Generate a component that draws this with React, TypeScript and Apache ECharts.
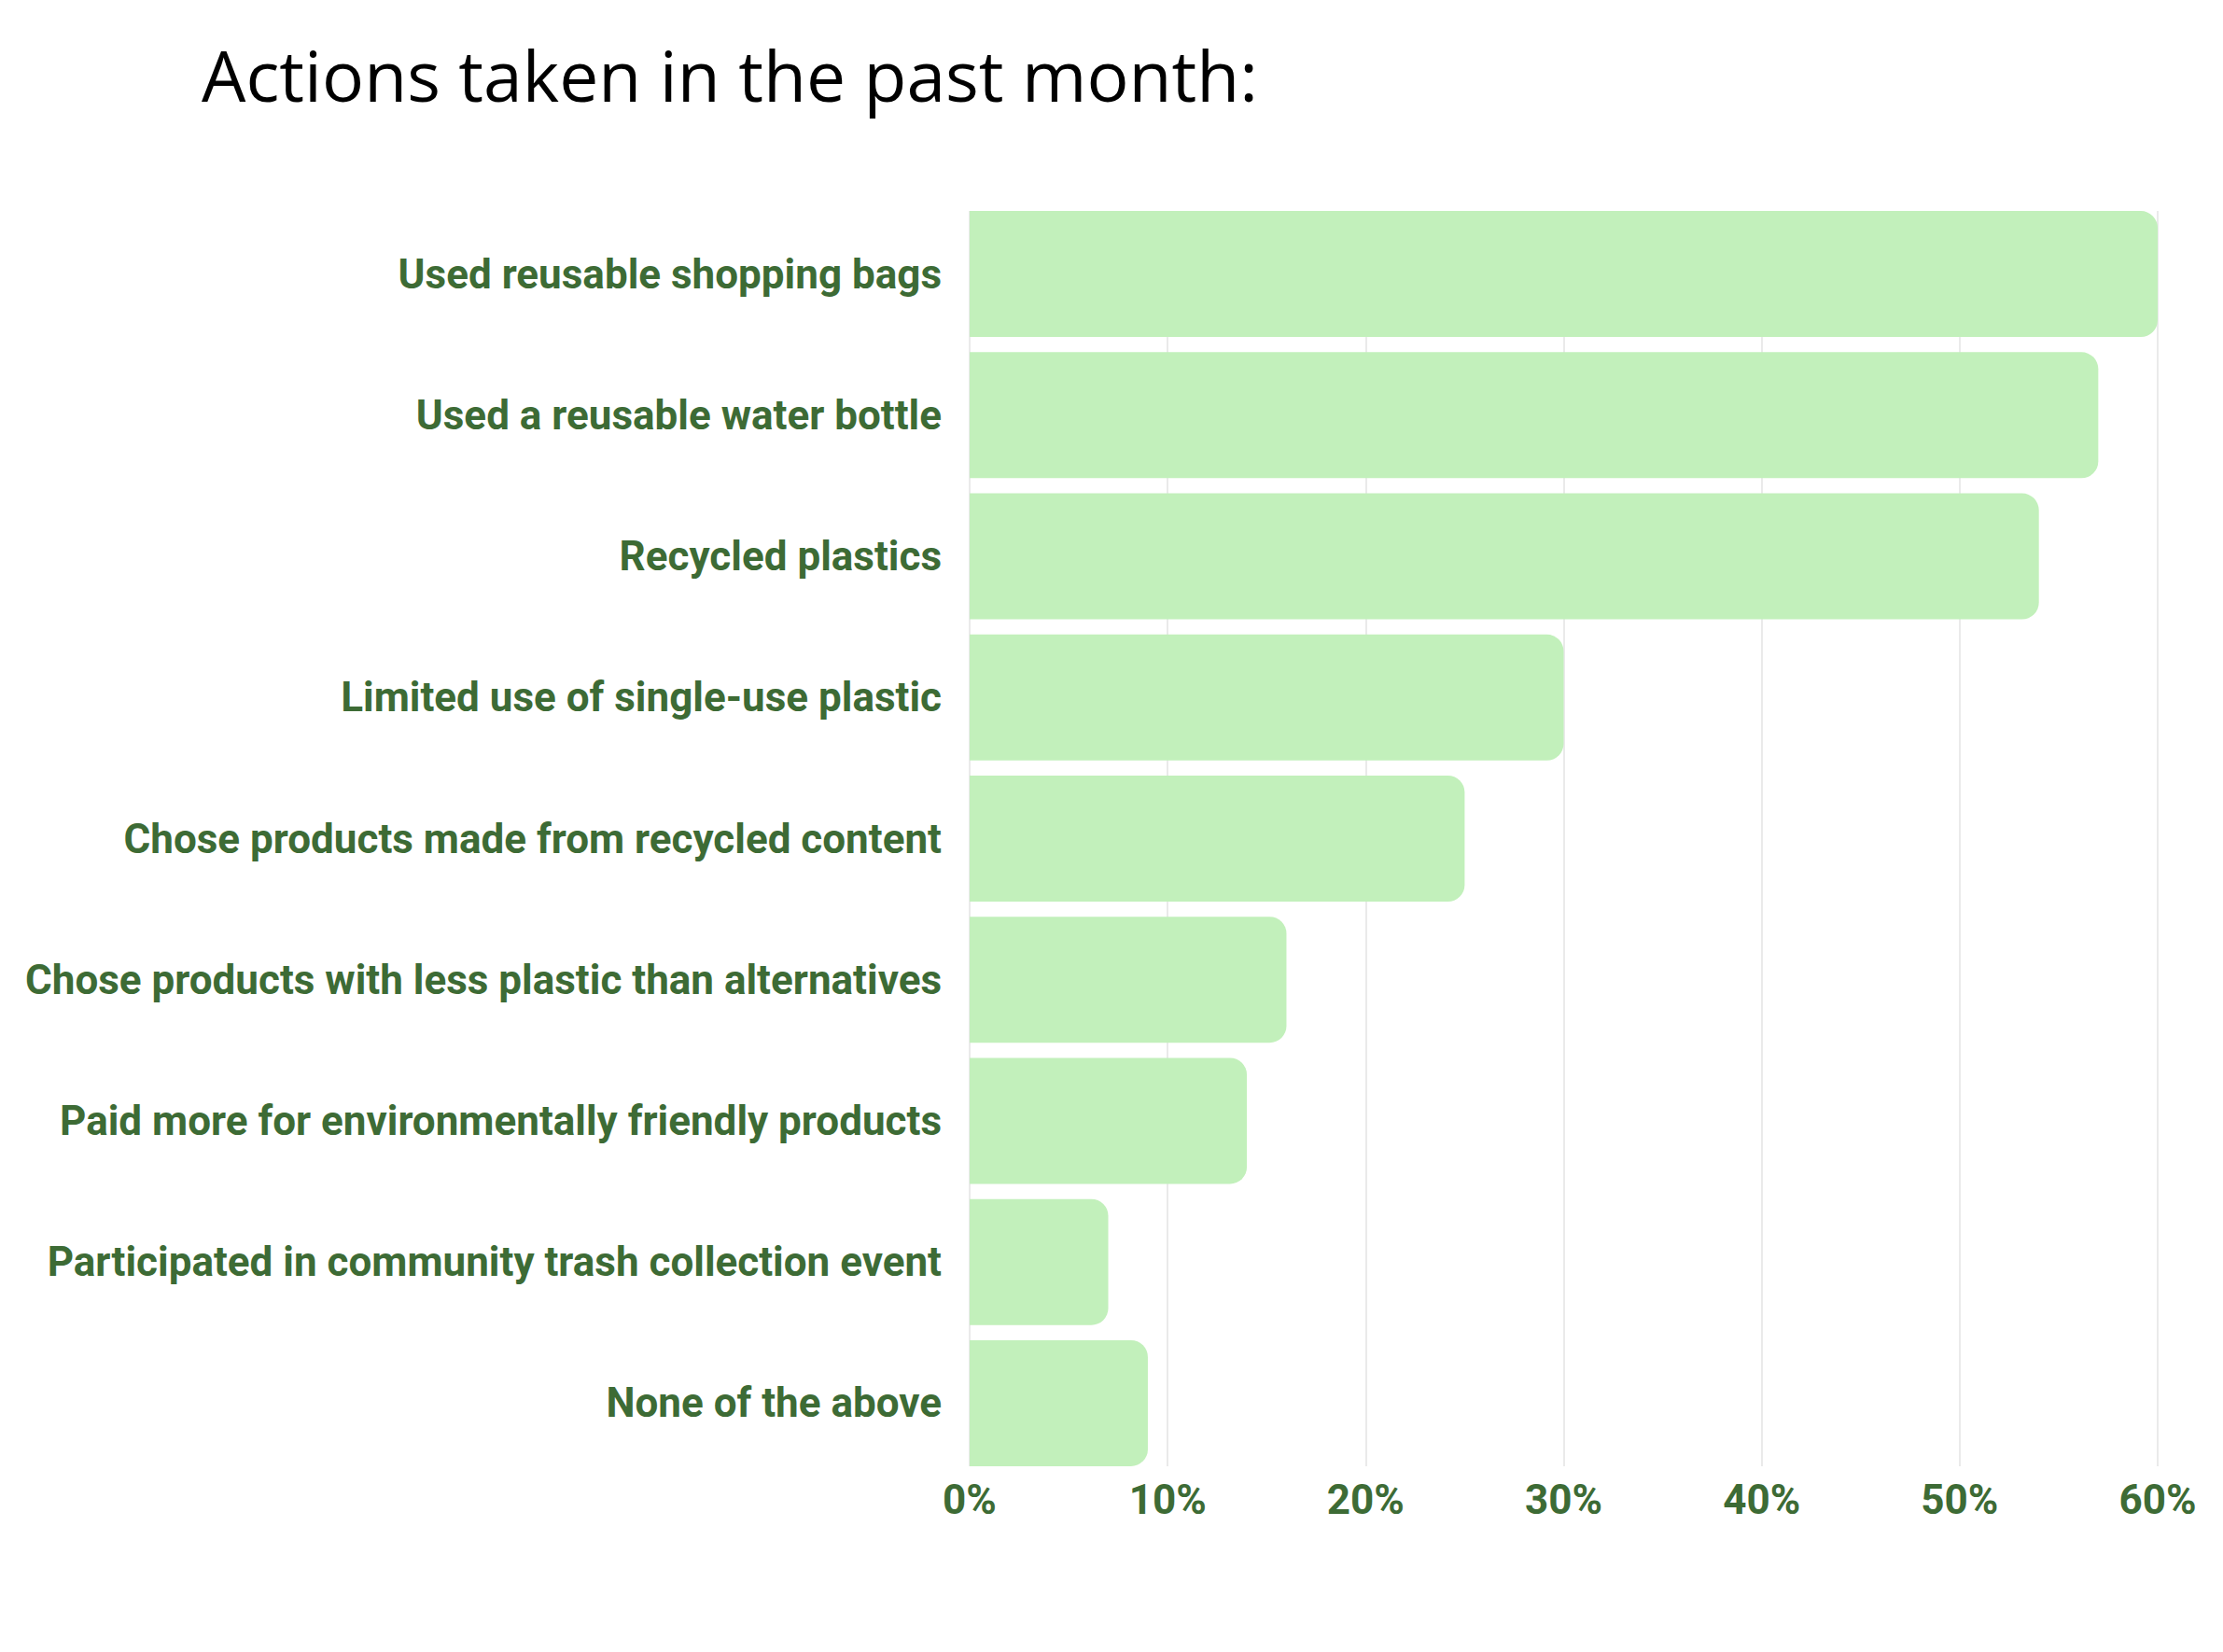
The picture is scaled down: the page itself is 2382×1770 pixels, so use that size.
import React, { useEffect, useRef } from "react";
import * as echarts from "echarts";

const categories = [
  "Used reusable shopping bags",
  "Used a reusable water bottle",
  "Recycled plastics",
  "Limited use of single-use plastic",
  "Chose products made from recycled content",
  "Chose products with less plastic than alternatives",
  "Paid more for environmentally friendly products",
  "Participated in community trash collection event",
  "None of the above",
];
const values = [60, 57, 54, 30, 25, 16, 14, 7, 9];
const titleText = "Actions taken in the past month:";

export default function App() {
  const ref = useRef<HTMLDivElement>(null);
  useEffect(() => {
    if (!ref.current) return;
    const chart = echarts.init(ref.current, undefined, { renderer: "svg" });
    const green = "#3d6b35";
    chart.setOption({
      animation: false,
      backgroundColor: "#ffffff",
      title: {
        text: titleText,
        left: 211,
        top: 37,
        textStyle: {
          fontFamily: "Open Sans",
          fontWeight: "normal",
          fontSize: 75,
          color: "#000000",
        },
      },
      grid: [
        { left: 1039, right: 70, top: 226, bottom: 199, containLabel: false },
        { left: 1039, right: 70, top: 218, bottom: 191, containLabel: false },
      ],
      xAxis: [
        {
          type: "value",
          gridIndex: 0,
          min: 0,
          max: 60,
          interval: 10,
          axisLine: { show: false },
          axisTick: { show: false },
          splitLine: { show: true, lineStyle: { color: "#e3e3e3", width: 1.5 } },
          axisLabel: {
            formatter: "{value}%",
            color: green,
            fontFamily: "Roboto",
            fontWeight: "bold",
            fontSize: 44,
            margin: 14,
          },
        },
        {
          type: "value",
          gridIndex: 1,
          min: 0,
          max: 60,
          interval: 10,
          show: false,
          splitLine: { show: false },
        },
      ],
      yAxis: [
        {
          type: "category",
          gridIndex: 0,
          data: categories,
          inverse: true,
          show: false,
        },
        {
          type: "category",
          gridIndex: 1,
          data: categories,
          inverse: true,
          axisLine: { show: false },
          axisTick: { show: false },
          splitLine: { show: false },
          axisLabel: {
            color: green,
            fontFamily: "Roboto",
            fontWeight: "bold",
            fontSize: 44,
            margin: 30,
            padding: [0, 0, 6, 0],
          },
        },
      ],
      series: [
        {
          type: "bar",
          xAxisIndex: 1,
          yAxisIndex: 1,
          data: values,
          barWidth: 135,
          itemStyle: { color: "#c2f0bb", borderRadius: [0, 18, 18, 0] },
        },
      ],
    });
    return () => chart.dispose();
  }, []);
  return (
    <div
      ref={ref}
      style={{ position: "fixed", left: 0, top: 0, width: 2382, height: 1770 }}
    />
  );
}
